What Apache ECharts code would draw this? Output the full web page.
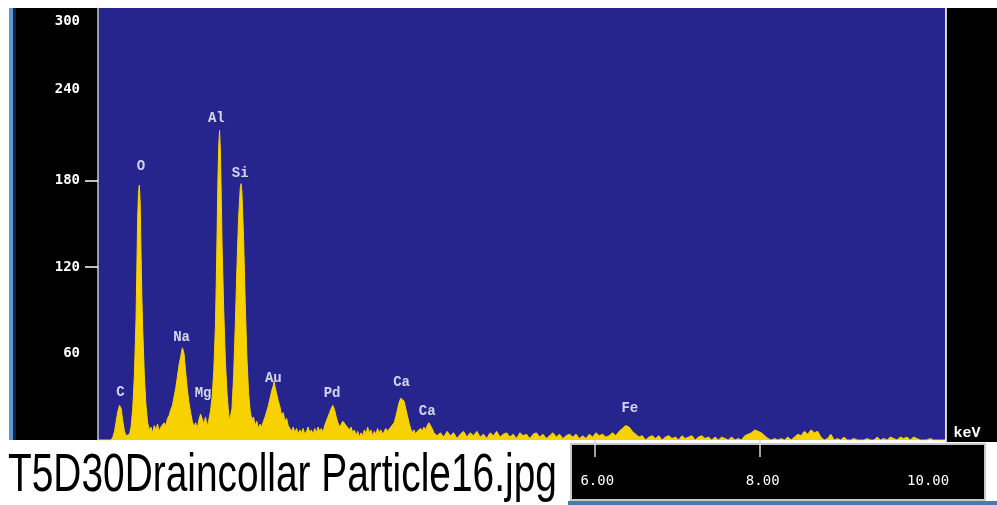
<!DOCTYPE html>
<html>
<head>
<meta charset="utf-8">
<title>T5D30Draincollar Particle16</title>
<script src="https://cdn.jsdelivr.net/npm/echarts@6/dist/echarts.min.js"></script>
<style>
  html, body { margin: 0; padding: 0; background: #fff; }
  #chart { width: 997px; height: 505px; }
</style>
</head>
<body>
<div id="chart"></div>
<script>
/* EDS spectrum: energy (keV) against counts. */
const energyKeV = [
  0.00, 0.16, 0.18, 0.20, 0.22, 0.24, 0.26, 0.28, 0.30, 0.32,
  0.34, 0.36, 0.38, 0.40, 0.42, 0.44, 0.46, 0.47, 0.48, 0.49,
  0.50, 0.51, 0.52, 0.53, 0.54, 0.56, 0.58, 0.60, 0.62, 0.64,
  0.66, 0.68, 0.70, 0.72, 0.74, 0.76, 0.78, 0.80, 0.82, 0.84,
  0.86, 0.88, 0.90, 0.92, 0.94, 0.96, 0.98, 1.00, 1.02, 1.03,
  1.04, 1.06, 1.08, 1.10, 1.12, 1.14, 1.16, 1.18, 1.20, 1.22,
  1.24, 1.26, 1.28, 1.30, 1.32, 1.34, 1.36, 1.38, 1.40, 1.42,
  1.43, 1.44, 1.45, 1.46, 1.47, 1.48, 1.49, 1.50, 1.52, 1.54,
  1.56, 1.58, 1.59, 1.60, 1.62, 1.64, 1.66, 1.68, 1.70, 1.72,
  1.73, 1.74, 1.76, 1.78, 1.80, 1.82, 1.84, 1.86, 1.88, 1.90,
  1.92, 1.94, 1.96, 1.98, 2.00, 2.02, 2.04, 2.06, 2.08, 2.10,
  2.12, 2.13, 2.14, 2.16, 2.18, 2.20, 2.22, 2.24, 2.26, 2.28,
  2.30, 2.32, 2.34, 2.36, 2.38, 2.40, 2.42, 2.44, 2.46, 2.48,
  2.50, 2.52, 2.54, 2.56, 2.58, 2.60, 2.62, 2.64, 2.66, 2.68,
  2.70, 2.72, 2.74, 2.76, 2.78, 2.80, 2.82, 2.84, 2.86, 2.88,
  2.90, 2.92, 2.94, 2.96, 2.98, 3.00, 3.02, 3.04, 3.06, 3.08,
  3.10, 3.12, 3.14, 3.16, 3.18, 3.20, 3.22, 3.24, 3.26, 3.28,
  3.30, 3.32, 3.34, 3.36, 3.38, 3.40, 3.42, 3.44, 3.46, 3.48,
  3.50, 3.52, 3.54, 3.56, 3.58, 3.60, 3.62, 3.64, 3.66, 3.68,
  3.70, 3.72, 3.74, 3.76, 3.78, 3.80, 3.82, 3.84, 3.86, 3.88,
  3.90, 3.92, 3.94, 3.96, 3.98, 4.00, 4.02, 4.04, 4.06, 4.08,
  4.10, 4.14, 4.18, 4.22, 4.26, 4.30, 4.34, 4.38, 4.42, 4.46,
  4.50, 4.54, 4.58, 4.62, 4.66, 4.70, 4.74, 4.78, 4.82, 4.86,
  4.90, 4.94, 4.98, 5.02, 5.06, 5.10, 5.14, 5.18, 5.22, 5.26,
  5.30, 5.34, 5.38, 5.42, 5.46, 5.50, 5.54, 5.58, 5.62, 5.66,
  5.70, 5.74, 5.78, 5.82, 5.86, 5.90, 5.94, 5.98, 6.02, 6.06,
  6.10, 6.14, 6.18, 6.22, 6.26, 6.30, 6.34, 6.38, 6.42, 6.46,
  6.50, 6.54, 6.58, 6.62, 6.66, 6.70, 6.74, 6.78, 6.82, 6.86,
  6.90, 6.94, 6.98, 7.02, 7.06, 7.10, 7.14, 7.18, 7.22, 7.26,
  7.30, 7.34, 7.38, 7.42, 7.46, 7.50, 7.54, 7.58, 7.62, 7.66,
  7.70, 7.74, 7.78, 7.82, 7.86, 7.90, 7.94, 7.98, 8.02, 8.06,
  8.10, 8.14, 8.18, 8.22, 8.26, 8.30, 8.34, 8.38, 8.42, 8.46,
  8.50, 8.54, 8.58, 8.62, 8.66, 8.70, 8.74, 8.78, 8.82, 8.86,
  8.90, 8.94, 8.98, 9.02, 9.06, 9.10, 9.14, 9.18, 9.22, 9.26,
  9.30, 9.34, 9.38, 9.42, 9.46, 9.50, 9.54, 9.58, 9.62, 9.66,
  9.70, 9.74, 9.78, 9.82, 9.86, 9.90, 9.94, 9.98, 10.02, 10.06,
  10.10, 10.12, 10.14, 10.24
];
const counts = [
  0, 0, 2, 6, 13, 20, 24, 22, 13, 6,
  3, 2, 4, 9, 22, 45, 85, 120, 155, 172,
  177, 165, 130, 100, 78, 45, 24, 12, 7, 9,
  5, 10, 7, 11, 6, 9, 8, 12, 10, 15,
  17, 21, 24, 30, 36, 44, 52, 58, 64, 65,
  60, 47, 35, 26, 19, 13, 9, 12, 8, 14,
  18, 19, 11, 16, 9, 14, 20, 30, 48, 80,
  110, 145, 180, 205, 215, 200, 170, 135, 90, 55,
  32, 18, 13, 12, 22, 45, 80, 120, 155, 175,
  178, 172, 140, 95, 58, 33, 20, 14, 16, 10,
  13, 8, 11, 9, 13, 16, 20, 24, 29, 34,
  38, 41, 37, 32, 27, 23, 17, 19, 13, 15,
  10, 8, 6, 9, 5, 8, 4, 7, 5, 8,
  4, 6, 9, 5, 7, 4, 8, 5, 9, 6,
  8, 5, 10, 13, 16, 19, 22, 24, 21, 16,
  12, 9, 11, 13, 14, 10, 11, 7, 9, 5,
  7, 3, 6, 2, 5, 3, 7, 4, 9, 5,
  7, 3, 6, 4, 8, 5, 7, 4, 6, 8,
  6, 5, 9, 8, 12, 16, 21, 26, 29, 30,
  27, 22, 17, 12, 8, 5, 7, 4, 6, 5,
  8, 6, 9, 7, 10, 12, 11, 8, 5, 6,
  3, 5, 2, 6, 3, 5, 1, 4, 6, 2,
  5, 3, 6, 2, 4, 1, 5, 3, 6, 2,
  4, 5, 2, 4, 1, 5, 3, 4, 1, 4,
  5, 2, 4, 1, 3, 5, 2, 4, 1, 3,
  4, 2, 4, 1, 3, 1, 4, 2, 5, 3,
  4, 2, 3, 5, 3, 6, 8, 10, 9, 6,
  4, 2, 3, 0, 2, 3, 1, 3, 0, 2,
  3, 1, 2, 0, 3, 1, 2, 3, 0, 2,
  3, 1, 2, 0, 2, 0, 2, 1, 0, 2,
  0, 1, 0, 3, 4, 5, 7, 6, 5, 3,
  1, 0, 1, 0, 1, 0, 2, 0, 2, 4,
  3, 6, 4, 7, 5, 6, 2, 0, 1, 4,
  0, 1, 0, 2, 0, 0, 1, 0, 0, 0,
  1, 0, 0, 2, 0, 1, 0, 2, 1, 0,
  2, 1, 2, 0, 2, 1, 0, 0, 0, 1,
  0, 1, 0, 0
];

// peak labels and where they sit
const peakNames = ["C", "O", "Na", "Mg", "Al", "Si", "Au", "Pd", "Ca", "Ca", "Fe"];
const peakKeV = [0.27, 0.52, 1.01, 1.27, 1.43, 1.72, 2.12, 2.83, 3.67, 3.98, 6.43];
const peakLabelCounts = [33, 190, 71, 32, 223, 185, 43, 32, 40, 20, 22];

// axis ticks
const yLabelValues = [60, 120, 180, 240, 300];
const yTickValues = [120, 180];
const xLabelValues = [6, 8, 10];
const xTickValues = [6, 8];

const fileTitle = "T5D30Draincollar Particle16.jpg";

const chart = echarts.init(document.getElementById("chart"), null, { renderer: "canvas" });
const plotBlue = "#25258d";
const yellow = "#f8d200";
const mono = "'DejaVu Sans Mono', monospace";

chart.setOption({
  animation: false,
  backgroundColor: "#ffffff",
  grid: {
    left: 98, top: 8, width: 847, height: 432,
    show: true, backgroundColor: plotBlue, borderWidth: 0
  },
  xAxis: {
    type: "value", min: 0, max: 10.24, offset: 3, z: 10,
    splitLine: { show: false },
    axisLine: { show: false },
    axisTick: { show: true, customValues: xTickValues, length: 17,
                lineStyle: { color: "#d8d8d8", width: 1.5 } },
    axisLabel: {
      customValues: xLabelValues, color: "#ffffff", fontFamily: mono, fontSize: 14,
      margin: 31, padding: [0, 0, 0, 6],
      formatter: function (v) { return v.toFixed(2); }
    }
  },
  yAxis: {
    type: "value", min: 0, max: 300, interval: 60, z: 10,
    splitLine: { show: false },
    axisLine: { show: true, lineStyle: { color: "#c8c8c8", width: 1.5 } },
    axisTick: { show: true, customValues: yTickValues, length: 13,
                lineStyle: { color: "#ffffff", width: 1.5 } },
    axisLabel: {
      customValues: yLabelValues, color: "#ffffff", fontFamily: mono,
      fontWeight: "bold", fontSize: 14, margin: 18,
      formatter: function (v) {
        if (v === 300) return "{top|300}";
        if (v === 240) return "{up|240}";
        return String(v);
      },
      rich: {
        top: { padding: [26, 0, 0, 0] },
        up: { padding: [0, 0, 10, 0] }
      }
    }
  },
  graphic: [
    { type: "rect", z: -1, shape: { x: 9, y: 8, width: 4, height: 432 }, style: { fill: "#5b9bd5" } },
    { type: "rect", z: -1, shape: { x: 13, y: 8, width: 3, height: 432 }, style: { fill: "#14204a" } },
    { type: "rect", z: -1, shape: { x: 16, y: 8, width: 82, height: 432 }, style: { fill: "#000000" } },
    { type: "rect", z: -1, shape: { x: 947, y: 8, width: 50, height: 434 }, style: { fill: "#000000" } },
    { type: "rect", z: -1, shape: { x: 945.5, y: 8, width: 1.5, height: 434 }, style: { fill: "#c8c8c8" } },
    { type: "rect", z: -1, shape: { x: 571, y: 444, width: 414, height: 56 },
      style: { fill: "#000000", stroke: "#c8c8c8", lineWidth: 2 } },
    { type: "rect", z: -1, shape: { x: 568, y: 501, width: 429, height: 4 }, style: { fill: "#4d77b0" } },
    { type: "text", z: 5, x: 967, y: 433,
      style: { text: "keV", fill: "#ffffff", font: "bold 15px 'Liberation Mono'",
               align: "center", verticalAlign: "middle" } },
    { type: "text", z: 5, x: 8, y: 476, scaleX: 0.72,
      style: { text: fileTitle, fill: "#000000", font: "54px 'Liberation Sans'",
               align: "left", verticalAlign: "middle" } }
  ],
  series: [
    {
      name: "counts", type: "line",
      data: energyKeV.map(function (e, i) { return [e, counts[i]]; }),
      symbol: "none", smooth: false, silent: true,
      lineStyle: { color: yellow, width: 1 },
      areaStyle: { color: yellow, opacity: 1 },
      z: 2
    },
    {
      name: "peaks", type: "scatter", symbolSize: 0, silent: true,
      data: peakKeV.map(function (e, i) { return [e, peakLabelCounts[i]]; }),
      label: {
        show: true, position: "inside", color: "#ffffff",
        fontFamily: "'Liberation Mono', monospace", fontWeight: "bold", fontSize: 14,
        formatter: function (p) { return peakNames[p.dataIndex]; }
      },
      z: 3
    }
  ]
});
</script>
</body>
</html>
